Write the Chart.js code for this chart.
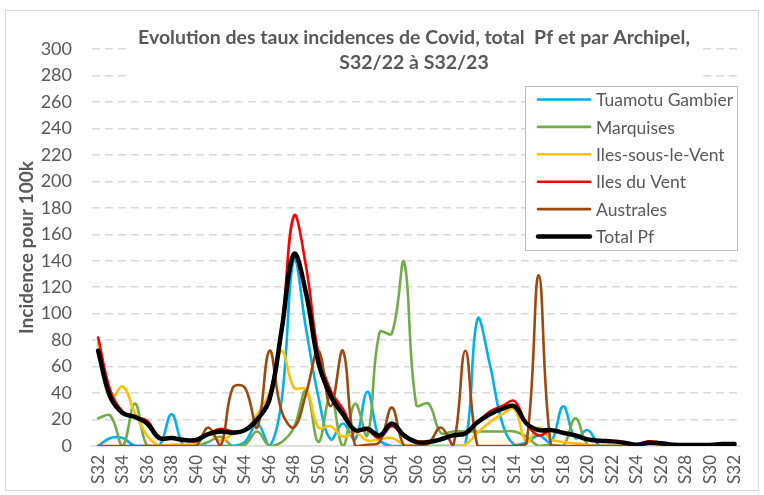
<!DOCTYPE html>
<html><head><meta charset="utf-8">
<script src="https://cdn.jsdelivr.net/npm/chart.js@4"></script>
<style>html,body{margin:0;padding:0;background:#fff}#wrap{width:764px;height:495px;position:relative}</style>
</head><body><div id="wrap"><canvas id="c" width="764" height="495"></canvas></div>
<script>
const weeks = ["S32","S33","S34","S35","S36","S37","S38","S39","S40","S41","S42","S43","S44","S45","S46","S47","S48","S49","S50","S51","S52","S01","S02","S03","S04","S05","S06","S07","S08","S09","S10","S11","S12","S13","S14","S15","S16","S17","S18","S19","S20","S21","S22","S23","S24","S25","S26","S27","S28","S29","S30","S31","S32"];
const tuamotu = [0,6,6,0,0,0,24,0,0,0, 0,0,3,17,0,35,141,88,37,5, 17,5,41,5,0,0,0,0,0,0, 1,96,62,18,1,3,8,3,30,6, 12,0,0,0,0,0,0,0,0,0, 0,0,0];
const marquises = [21,23,0,32,0,0,0,0,0,3, 7,0,1,11,0,3,14,42,3,38, 0,32,8,86,85,139,31,32,10,11, 11,11,11,11,11,7,0,1,0,21, 1,0,0,0,0,0,0,0,0,0, 0,0,0];
const ilesSousLeVent = [78,35,45,25,8,0,1,1,2,10, 4,9,12,24,40,72,44,43,14,15, 7,10,4,5,6,1,0,0,0,0, 1,10,18,24,28,3,14,5,3,2, 1,0,0,0,0,0,0,0,0,0, 0,0,0];
const ilesDuVent = [82,42,26,22,19,7,6,5,4,9, 13,11,12,20,38,90,174,135,70,42, 28,12,12,6,15,7,3,3,5,8, 10,18,26,30,34,17,8,12,10,8, 5,4,3.5,2.5,1,3.5,2.5,1,0.8,0.8, 0.8,1.5,1.5];
const australes = [0,0,0,0,0,0,0,0,0,14, 0,44,44,14,72,26,14,40,72,30, 72,0,1,3,29,0,0,2,14,0, 72,0,0,0,0,2,129,0,0,0, 0,0,0,0,0,2,1,0,0,0, 0,0,1];
const totalPf = [72,37,25,22,17,6,6,4.5,4.5,9, 11,10,12,20,35,88,145,115,63,38, 24,12,13,8,17,8,3,3,5,8, 9.5,18,24,28,30,17,12,12,10,8, 5,4,3.5,2.5,1,2.5,2,1,0.8,0.8, 0.8,1.5,1.5];
const yTicks = {min:0, max:300, step:20};
const titleLines = ["Evolution des taux incidences de Covid, total  Pf et par Archipel,", "S32/22 à S32/23"];
const yTitle = "Incidence pour 100k";

const FONT = "Lato";
const TXT = "#595959";

function ds(label, data, color, width, order){
  return {label, data, borderColor: color, backgroundColor: color, borderWidth: width,
    pointRadius: 0, pointHoverRadius: 0, tension: 0.4, fill: false, order,
    borderCapStyle: 'round', borderJoinStyle: 'round'};
}

const bgPlugin = {
  id: 'bg',
  beforeDraw(chart){
    const ctx = chart.ctx;
    ctx.save();
    ctx.fillStyle = '#fff';
    ctx.fillRect(0,0,chart.width,chart.height);
    ctx.strokeStyle = '#d9d9d9';
    ctx.lineWidth = 1;
    ctx.strokeRect(5.5, 10.5, 753, 480);
    ctx.restore();
  }
};

const overlayPlugin = {
  id: 'overlay',
  afterDraw(chart){
    const ctx = chart.ctx;
    ctx.save();
    // title
    ctx.fillStyle = '#fff';
    ctx.fillRect(128, 24, 570, 56);
    ctx.fillStyle = TXT;
    ctx.font = "bold 19.5px " + FONT;
    ctx.textAlign = 'center';
    ctx.textBaseline = 'middle';
    ctx.fillText(titleLines[0], 414, 38);
    ctx.fillText(titleLines[1], 414, 63);
    // legend
    const lx = 525.5, ly = 86.5, lw = 212, lh = 164;
    ctx.fillStyle = '#fff';
    ctx.fillRect(lx, ly, lw, lh);
    ctx.strokeStyle = '#bfbfbf';
    ctx.lineWidth = 1;
    ctx.strokeRect(lx, ly, lw, lh);
    const dsets = chart.data.datasets;
    ctx.font = "17.5px " + FONT;
    ctx.textAlign = 'left';
    for (let i = 0; i < dsets.length; i++){
      const y = 99.5 + i * 27.4;
      ctx.strokeStyle = dsets[i].borderColor;
      ctx.lineWidth = dsets[i].borderWidth;
      ctx.lineCap = 'round';
      ctx.beginPath();
      ctx.moveTo(538, y);
      ctx.lineTo(590, y);
      ctx.stroke();
      ctx.fillStyle = TXT;
      ctx.fillText(dsets[i].label, 596, y + 1);
    }
    ctx.restore();
  }
};

new Chart(document.getElementById('c'), {
  type: 'line',
  data: {
    labels: weeks,
    datasets: [
      ds('Tuamotu Gambier', tuamotu, '#00b0f0', 2.6, 6),
      ds('Marquises', marquises, '#70ad47', 2.6, 5),
      ds('Iles-sous-le-Vent', ilesSousLeVent, '#ffc000', 2.6, 4),
      ds('Iles du Vent', ilesDuVent, '#ff0000', 2.6, 3),
      ds('Australes', australes, '#9e480e', 2.6, 2),
      ds('Total Pf', totalPf, '#000000', 4.5, 1)
    ]
  },
  options: {
    responsive: false,
    animation: false,
    devicePixelRatio: 1,
    layout: {padding: {left: 4, right: 7, top: 49, bottom: 4}},
    plugins: {legend: {display: false}, title: {display: false}, tooltip: {enabled: false}},
    scales: {
      x: {
        type: 'category',
        offset: true,
        grid: {display: false, drawTicks: false},
        border: {display: true, color: '#d9d9d9', width: 1.5},
        ticks: {
          autoSkip: false, minRotation: 90, maxRotation: 90, padding: 9,
          color: TXT, font: {family: FONT, size: 17},
          callback: (v, i) => (i % 2 === 0 ? weeks[i] : '')
        },
        afterFit: s => { s.height = 45; }
      },
      y: {
        min: yTicks.min, max: yTicks.max,
        grid: {color: '#d9d9d9', lineWidth: 1.5, drawTicks: false},
        border: {display: false, dash: c => (c.tick && c.tick.value === 0 ? [] : [8, 5])},
        ticks: {stepSize: yTicks.step, padding: 20, color: TXT, font: {family: FONT, size: 18}},
        title: {display: true, text: yTitle, color: TXT, font: {family: FONT, size: 19, weight: 'bold'}, padding: {top: 11, bottom: 0}},
        afterFit: s => { s.width = 88; }
      }
    }
  },
  plugins: [bgPlugin, overlayPlugin]
});
</script>
</body></html>
